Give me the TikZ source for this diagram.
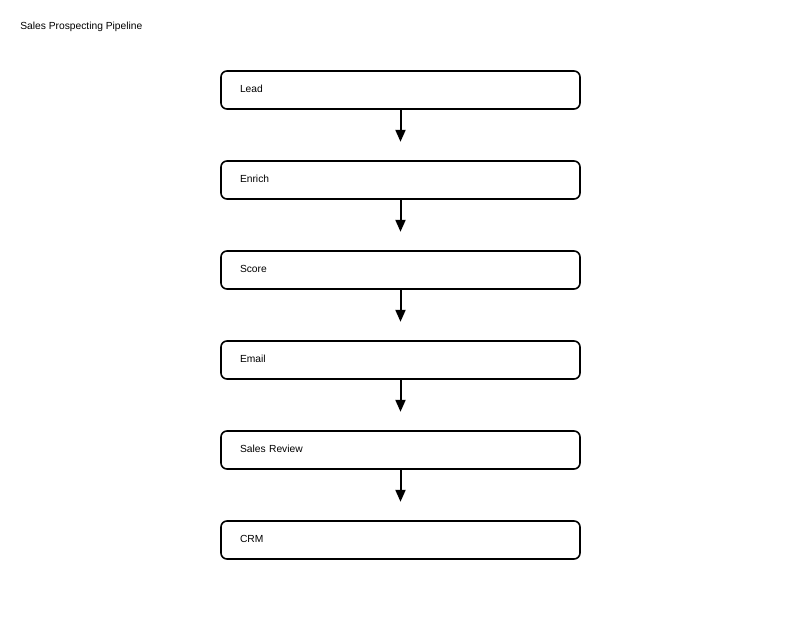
\documentclass[tikz,border=0pt]{standalone}
\usepackage{fontspec}
\setmainfont{Liberation Sans}
\usetikzlibrary{arrows.meta}
\begin{document}
\begin{tikzpicture}[x=0.75pt,y=-0.75pt,
  stepbox/.style={draw=black,line width=1.2pt,rounded corners=4.5pt,minimum width=269.25pt,minimum height=28.5pt,
    text width=240.75pt,align=left,inner xsep=14.25pt,inner ysep=0pt,font=\fontsize{7.7pt}{9pt}\selectfont},
  flow/.style={-{Triangle[width=7.5pt,length=9pt]}}]
\useasboundingbox (0,0) rectangle (800,640);
\node[anchor=west,inner sep=0pt,font=\fontsize{7.7pt}{9pt}\selectfont] (title) at (20,27) {Sales Prospecting Pipeline};
\node[stepbox] (lead) at (400.5,90) {\raisebox{1.5pt}{Lead}};
\node[stepbox] (enrich) at (400.5,180) {\raisebox{1.5pt}{Enrich}};
\node[stepbox] (score) at (400.5,270) {\raisebox{1.5pt}{Score}};
\node[stepbox] (email) at (400.5,360) {\raisebox{1.5pt}{Email}};
\node[stepbox] (review) at (400.5,450) {\raisebox{1.5pt}{Sales Review}};
\node[stepbox] (crm) at (400.5,540) {\raisebox{1.5pt}{CRM}};
\foreach \a/\b in {lead/c1,enrich/c2,score/c3,email/c4,review/c5}{
  \coordinate (\b) at ([yshift=-24pt]\a.south);
  \draw[flow,line width=1.5pt] (\a.south) -- (\b);
}
\end{tikzpicture}
\end{document}
